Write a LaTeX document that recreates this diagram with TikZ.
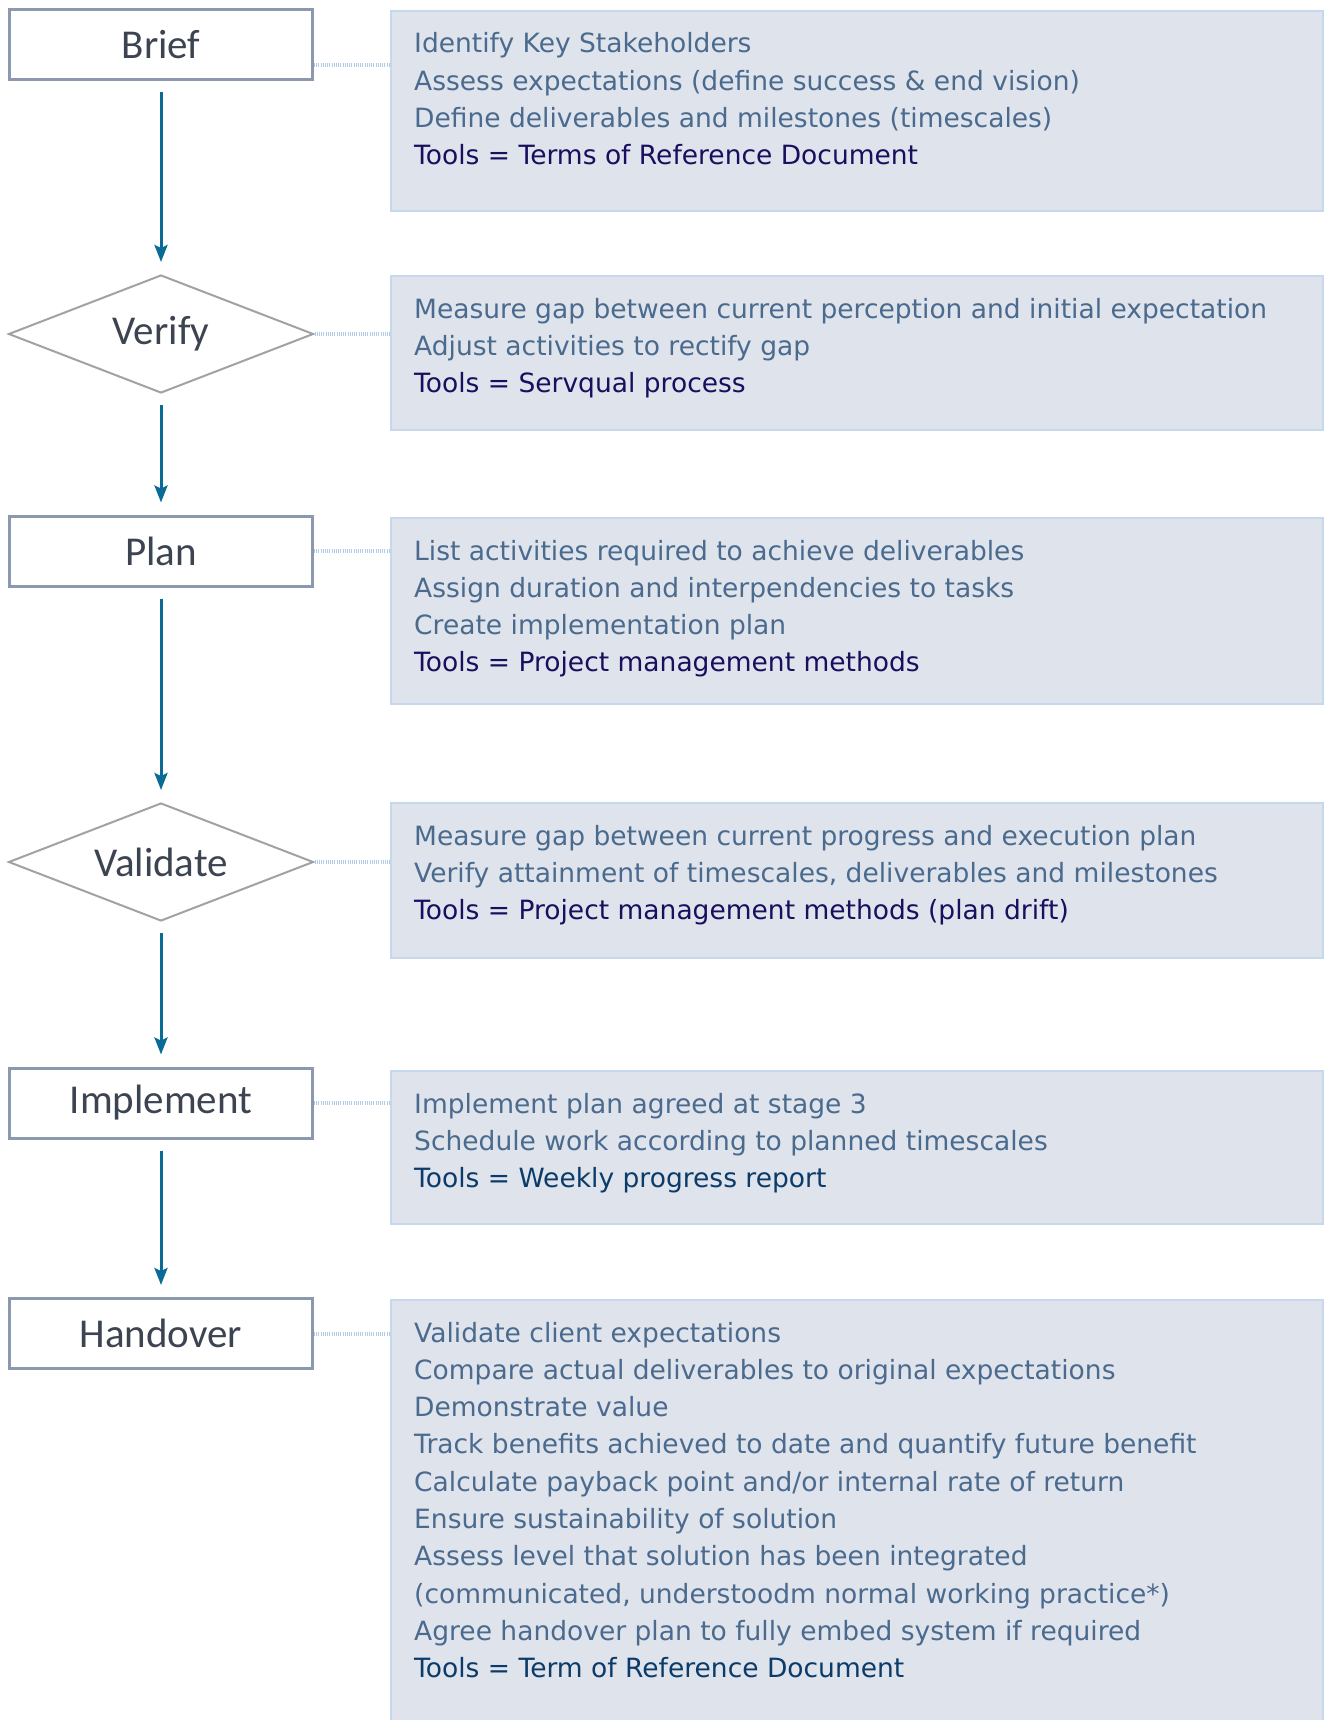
\documentclass[tikz,border=0pt]{standalone}
\usepackage{fontspec}
\usetikzlibrary{shapes.geometric,arrows.meta}
\newfontfamily\panelfont{DejaVu Sans}
\newfontfamily\stepfont{Carlito}
\definecolor{stepline}{HTML}{8C98AE}
\definecolor{diamline}{HTML}{A2A2A2}
\definecolor{steptext}{HTML}{3D4451}
\definecolor{flow}{HTML}{0A6B96}
\definecolor{panelfill}{HTML}{DFE3EC}
\definecolor{panelline}{HTML}{C6D8EE}
\definecolor{linkblue}{HTML}{B4CBE8}
\definecolor{itemgrey}{HTML}{4A6A8E}
\definecolor{toolnavy}{HTML}{1A0E5E}
\definecolor{tooldark}{HTML}{0B3B68}
\tikzset{
  stepbox/.style={draw=stepline, line width=3pt, fill=white, minimum width=303pt,
    minimum height=70pt, inner sep=0pt, font=\stepfont\fontsize{41}{41}\selectfont, text=steptext},
  checkbox/.style={diamond, aspect=2.6, draw=diamline, line width=2pt, fill=white, minimum width=305pt,
    minimum height=118pt, inner sep=0pt, font=\stepfont\fontsize{41}{41}\selectfont, text=steptext},
  panel/.style={draw=panelline, line width=2pt, fill=panelfill, minimum width=932pt,
    anchor=north west, inner sep=0pt},
  item/.style={anchor=base west, inner sep=0pt, font=\panelfont\fontsize{26.5}{30}\selectfont, text=itemgrey},
  tool/.style={item, text=toolnavy},
  flowarrow/.style={draw=flow, line width=3pt, -{Stealth[width=13pt,length=17pt,inset=3pt]},
    shorten <=11pt, shorten >=12pt},
  link/.style={draw=linkblue, line width=4pt, dash pattern=on 1pt off 1.2pt}
}
\begin{document}
\begin{tikzpicture}[x=1pt,y=-1pt]
\useasboundingbox (0,0) rectangle (1323,1720);
% steps on the left
\node[stepbox] (sBrief) at (161,44.5) {Brief};
\node[checkbox] (sVerify) at (161,334) {Verify};
\node[stepbox] (sPlan) at (161,551) {Plan};
\node[checkbox] (sValidate) at (161,862) {Validate};
\node[stepbox] (sImplement) at (161,1103) {Implement};
\node[stepbox] (sHandover) at (161,1333.5) {Handover};
\draw[flowarrow] (sBrief) -- (sVerify);
\draw[flowarrow] (sVerify) -- (sPlan);
\draw[flowarrow] (sPlan) -- (sValidate);
\draw[flowarrow] (sValidate) -- (sImplement);
\draw[flowarrow] (sImplement) -- (sHandover);
% panels on the right
\node[panel, minimum height=200pt] (pBrief) at (390,10) {};
\node[panel, minimum height=154pt] (pVerify) at (390,275) {};
\node[panel, minimum height=186pt] (pPlan) at (390,517) {};
\node[panel, minimum height=155pt] (pValidate) at (390,802) {};
\node[panel, minimum height=153pt] (pImplement) at (390,1070) {};
\node[panel, minimum height=430pt] (pHandover) at (390,1299) {};
% dotted links
\draw[link] ([yshift=-21pt]sBrief.east) -- ([yshift=-21pt]sBrief.east -| pBrief.west);
\draw[link] (sVerify.east) -- (sVerify.east -| pVerify.west);
\draw[link] (sPlan.east) -- (sPlan.east -| pPlan.west);
\draw[link] (sValidate.east) -- (sValidate.east -| pValidate.west);
\draw[link] (sImplement.east) -- (sImplement.east -| pImplement.west);
\draw[link] (sHandover.east) -- (sHandover.east -| pHandover.west);
% panel texts
\foreach \txt [count=\i from 0] in {Identify Key Stakeholders,
  Assess expectations (define success \& end vision),
  Define deliverables and milestones (timescales)}
  \node[item] (tBrief\i) at ([shift={(24,{43+\i*37.3})}]pBrief.north west) {\txt};
\node[tool] (kBrief) at ([shift={(24,{43+3*37.3})}]pBrief.north west) {Tools = Terms of Reference Document};
\foreach \txt [count=\i from 0] in {Measure gap between current perception and initial expectation,
  Adjust activities to rectify gap}
  \node[item] (tVerify\i) at ([shift={(24,{43+\i*37.3})}]pVerify.north west) {\txt};
\node[tool] (kVerify) at ([shift={(24,{43+2*37.3})}]pVerify.north west) {Tools = Servqual process};
\foreach \txt [count=\i from 0] in {List activities required to achieve deliverables,
  Assign duration and interpendencies to tasks,
  Create implementation plan}
  \node[item] (tPlan\i) at ([shift={(24,{43+\i*37.3})}]pPlan.north west) {\txt};
\node[tool] (kPlan) at ([shift={(24,{43+3*37.3})}]pPlan.north west) {Tools = Project management methods};
\foreach \txt [count=\i from 0] in {Measure gap between current progress and execution plan,
  {Verify attainment of timescales, deliverables and milestones}}
  \node[item] (tValidate\i) at ([shift={(24,{43+\i*37.3})}]pValidate.north west) {\txt};
\node[tool] (kValidate) at ([shift={(24,{43+2*37.3})}]pValidate.north west) {Tools = Project management methods (plan drift)};
\foreach \txt [count=\i from 0] in {Implement plan agreed at stage 3,
  Schedule work according to planned timescales}
  \node[item] (tImplement\i) at ([shift={(24,{43+\i*37.3})}]pImplement.north west) {\txt};
\node[tool, text=tooldark] (kImplement) at ([shift={(24,{43+2*37.3})}]pImplement.north west) {Tools = Weekly progress report};
\foreach \txt [count=\i from 0] in {Validate client expectations,
  Compare actual deliverables to original expectations,
  Demonstrate value,
  Track benefits achieved to date and quantify future benefit,
  Calculate payback point and/or internal rate of return,
  Ensure sustainability of solution,
  Assess level that solution has been integrated,
  {(communicated, understoodm normal working practice*)},
  Agree handover plan to fully embed system if required}
  \node[item] (tHandover\i) at ([shift={(24,{43+\i*37.3})}]pHandover.north west) {\txt};
\node[tool, text=tooldark] (kHandover) at ([shift={(24,{43+9*37.3})}]pHandover.north west) {Tools = Term of Reference Document};
\end{tikzpicture}
\end{document}
